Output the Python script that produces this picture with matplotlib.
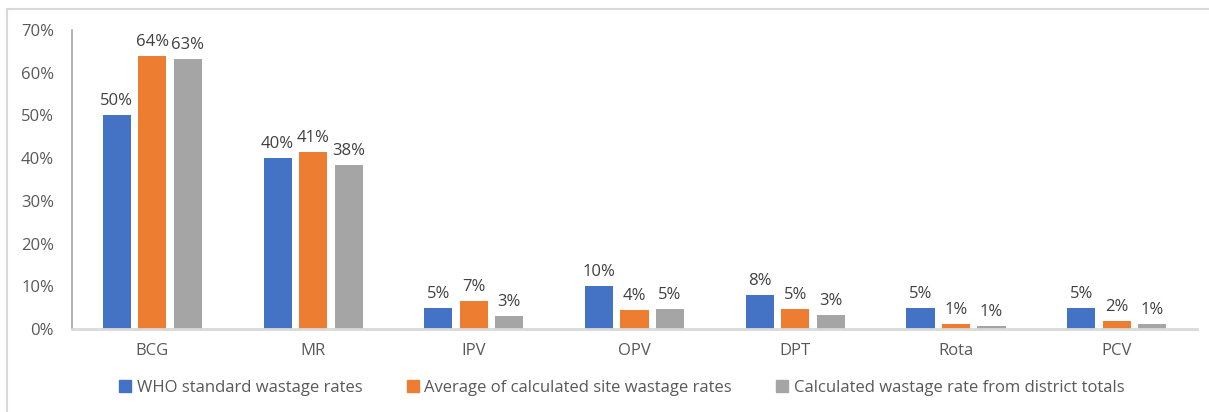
import matplotlib
matplotlib.use("Agg")
import matplotlib.pyplot as plt
from matplotlib.lines import Line2D
import numpy as np

categories = ["BCG", "MR", "IPV", "OPV", "DPT", "Rota", "PCV"]
who_standard = [0.50, 0.40, 0.05, 0.10, 0.08, 0.05, 0.05]
site_average = [0.64, 0.414, 0.066, 0.044, 0.046, 0.011, 0.019]
district_totals = [0.632, 0.384, 0.031, 0.046, 0.032, 0.0065, 0.012]
series_names = [
    "WHO standard wastage rates",
    "Average of calculated site wastage rates",
    "Calculated wastage rate from district totals",
]
y_ticks = [0.0, 0.1, 0.2, 0.3, 0.4, 0.5, 0.6, 0.7]

colors = ["#4472C4", "#ED7D31", "#A5A5A5"]
plt.rcParams["font.family"] = ["Open Sans", "DejaVu Sans"]
fs = 12

fig = plt.figure(figsize=(12.09, 4.12), dpi=100)
ax = fig.add_axes([0.0596, 0.2015, 0.9305, 0.7255])

x = np.arange(len(categories))
step = 0.221
width = 0.175
for i, (vals, color, name) in enumerate(zip([who_standard, site_average, district_totals], colors, series_names)):
    pos = x + (i - 1) * step
    ax.bar(pos, vals, width=width, color=color, label=name, zorder=2)
    for xp, v in zip(pos, vals):
        ax.text(xp, v + 0.014, f"{v*100:.0f}%", ha="center", va="bottom",
                fontsize=fs, color="#404040")

ax.set_xlim(-0.5, len(categories) - 0.5)
ax.set_ylim(0, 0.7)
ax.set_yticks(y_ticks)
ax.set_yticklabels([f"{t*100:.0f}%" for t in y_ticks])
ax.set_xticks(x)
ax.set_xticklabels(categories)
ax.tick_params(axis="y", length=0, pad=13, labelsize=fs, labelcolor="#595959")
ax.tick_params(axis="x", length=0, pad=10, labelsize=fs, labelcolor="#595959")

for side in ["top", "right"]:
    ax.spines[side].set_visible(False)
ax.spines["left"].set_color("#A6A6A6")
ax.spines["left"].set_linewidth(1.2)
ax.spines["bottom"].set_color("#D9D9D9")
ax.spines["bottom"].set_linewidth(2)

handles = [Line2D([0], [0], marker="s", linestyle="none", markersize=8,
                  markerfacecolor=c, markeredgecolor=c) for c in colors]
fig.legend(handles, series_names, loc="center", bbox_to_anchor=(0.514, 0.058),
           ncol=3, frameon=False, fontsize=fs, labelcolor="#595959",
           handletextpad=0.3, columnspacing=2.6, handlelength=0.8)

# chart area frame
fig.add_artist(Line2D([7 / 1209, 7 / 1209], [0, 1 - 9 / 412], transform=fig.transFigure,
                      color="#D9D9D9", linewidth=1.5))
fig.add_artist(Line2D([7 / 1209, 1], [1 - 9 / 412, 1 - 9 / 412], transform=fig.transFigure,
                      color="#D9D9D9", linewidth=1.5))

fig.savefig("out.png", dpi=100)
